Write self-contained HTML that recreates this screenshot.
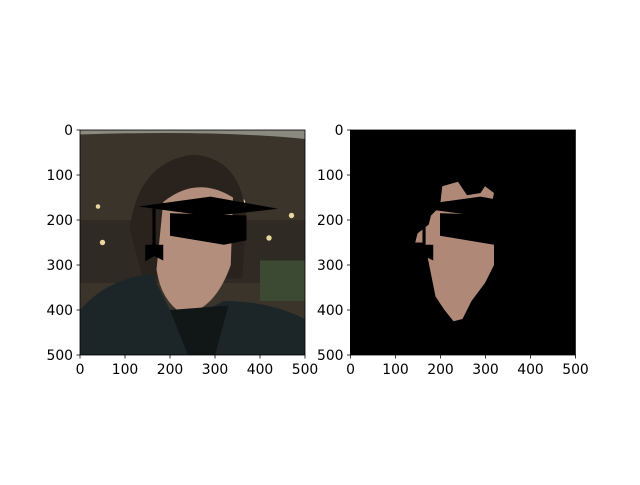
<!DOCTYPE html>
<html><head><meta charset="utf-8"><style>
body{margin:0;background:#fff}
text{font-family:"DejaVu Sans","Liberation Sans",sans-serif;font-size:13.9px;fill:#000}
</style></head><body>
<svg width="640" height="480">
<defs><clipPath id="c"><rect x="0" y="0" width="500" height="500"/></clipPath></defs>
<g transform="translate(80,130) scale(0.45)" clip-path="url(#c)">
<rect width="500" height="500" fill="#3b342b"/>
<path d="M0,0 L500,0 L500,20 Q300,0 0,10 Z" fill="#8a8a80"/>
<rect y="200" width="500" height="140" fill="#2f2a24"/>
<rect x="400" y="290" width="100" height="90" fill="#3c4a34"/>
<g fill="#e8d8a0"><circle cx="50" cy="250" r="6"/><circle cx="360" cy="160" r="7"/><circle cx="420" cy="240" r="6"/><circle cx="470" cy="190" r="6"/><circle cx="40" cy="170" r="5"/></g>
<path d="M110,220 Q130,70 250,55 Q360,60 370,200 L360,330 L140,330 Z" fill="#2a221d"/>
<path d="M185,160 Q260,100 340,150 L335,300 Q300,400 230,410 Q180,380 170,310 Z" fill="#b48e7c"/>
<path d="M0,500 L0,400 Q60,330 160,320 L200,400 L240,420 L320,380 Q420,380 500,420 L500,500 Z" fill="#1c2629"/>
<path d="M200,400 L240,500 L300,500 L330,390 Z" fill="#111617"/>
<polygon points="130,170 290,148 440,175 290,192" fill="#000"/>
<polygon points="200,185 370,190 370,245 320,255 200,235" fill="#000"/>
<rect x="161" y="175" width="7" height="90" fill="#000"/>
<polygon points="145,255 185,255 185,290 165,280 145,292" fill="#000"/>
</g>
<g transform="translate(350,130) scale(0.45)" clip-path="url(#c)">
<rect width="500" height="500" fill="#000"/>
<path d="M205,125 L240,115 L250,130 L260,145 L290,140 L300,125 L320,140 L310,190 L310,200 L320,240 L320,300 L300,340 L270,380 L250,420 L230,425 L210,400 L190,370 L180,320 L170,270 L160,250 L145,250 L150,230 L175,210 L180,190 L200,170 Z" fill="#b08878"/>
<polygon points="130,170 290,148 440,175 290,192" fill="#000"/>
<polygon points="200,185 370,190 370,245 320,255 200,235" fill="#000"/>
<rect x="161" y="175" width="7" height="90" fill="#000"/>
<polygon points="145,255 185,255 185,290 165,280 145,292" fill="#000"/>
</g>
<g id="axes" stroke="#000" fill="none" stroke-width="0.8">
<rect x="80" y="130" width="225" height="225"/>
<rect x="350.5" y="130" width="225" height="225"/>
</g>
<g id="ticks"></g>
</svg>
<script>
const tickValues=[0,100,200,300,400,500];
const panels=[80,350.5];
const g=document.getElementById('ticks');
const ns='http://www.w3.org/2000/svg';
panels.forEach((x0,pi)=>{
  tickValues.forEach(v=>{
    const p=v*0.45;
    const l1=document.createElementNS(ns,'line');
    
    
    l1.setAttribute('x1',x0+p);l1.setAttribute('x2',x0+p);l1.setAttribute('y1',355);l1.setAttribute('y2',358.5);l1.setAttribute('stroke','#000');l1.setAttribute('stroke-width','0.8');g.appendChild(l1);
    const t1=document.createElementNS(ns,'text');
    
    
    t1.setAttribute('x',x0+p);t1.setAttribute('y',374);t1.setAttribute('text-anchor','middle');t1.textContent=v;g.appendChild(t1);
    const l2=document.createElementNS(ns,'line');
    
    
    l2.setAttribute('x1',x0-3.5);l2.setAttribute('x2',x0);l2.setAttribute('y1',130+p);l2.setAttribute('y2',130+p);l2.setAttribute('stroke','#000');l2.setAttribute('stroke-width','0.8');g.appendChild(l2);
    const t2=document.createElementNS(ns,'text');
    
    
    t2.setAttribute('x',x0-7);t2.setAttribute('y',130+p+5);t2.setAttribute('text-anchor','end');t2.textContent=v;g.appendChild(t2);
  });
});
</script>
</body></html>
